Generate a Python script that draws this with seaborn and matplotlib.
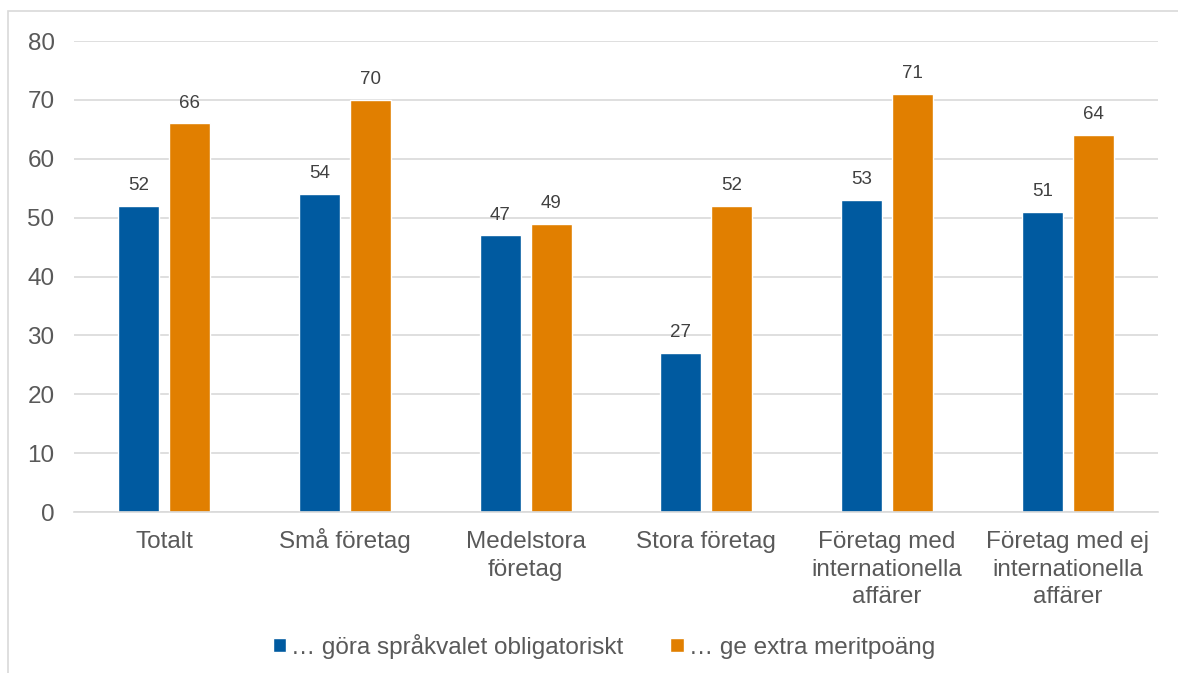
import pandas as pd
import matplotlib.pyplot as plt
import matplotlib.patches as mpatches
import seaborn as sns

categories = ["Totalt", "Små företag", "Medelstora\nföretag", "Stora företag",
              "Företag med\ninternationella\naffärer", "Företag med ej\ninternationella\naffärer"]
series_names = ["… göra språkvalet obligatoriskt", "… ge extra meritpoäng"]
obligatoriskt = [52, 54, 47, 27, 53, 51]
meritpoang = [66, 70, 49, 52, 71, 64]
y_ticks = [0, 10, 20, 30, 40, 50, 60, 70, 80]

COLORS = ["#005AA0", "#E17F00"]
TEXT = "#595959"
GRID = "#D9D9D9"

df = pd.DataFrame({
    "kategori": categories * 2,
    "serie": [series_names[0]] * len(categories) + [series_names[1]] * len(categories),
    "varde": obligatoriskt + meritpoang,
})

sns.set_theme(style="white")
plt.rcParams["font.family"] = ["Liberation Sans", "DejaVu Sans"]
plt.rcParams["text.color"] = TEXT

fig = plt.figure(figsize=(11.78, 6.73), dpi=100)
ax = fig.add_axes([0.0628, 0.2392, 0.9202, 0.6998])

sns.barplot(data=df, x="kategori", y="varde", hue="serie", palette=COLORS,
            width=0.564, gap=0.195, saturation=1, ax=ax, legend=True)

# datavärden ovanför staplarna
for cont in ax.containers:
    ax.bar_label(cont, fmt="%d", padding=8.5, fontsize=13.5, color="#404040")

ax.set_ylim(0, 80)
ax.set_xlim(-0.5, len(categories) - 0.5)
ax.set_yticks(y_ticks)
ax.yaxis.grid(True, color=GRID, linewidth=1.2)
ax.set_axisbelow(True)
for side in ["left", "right", "top"]:
    ax.spines[side].set_visible(False)
ax.spines["bottom"].set_color(GRID)
ax.spines["bottom"].set_linewidth(1.2)
ax.tick_params(axis="y", length=0, pad=14, labelsize=17.5, labelcolor=TEXT)
ax.tick_params(axis="x", length=0, labelbottom=False)
ax.set_xlabel("")
ax.set_ylabel("")

# kategorietiketter rad för rad, så att första radens baslinje ligger lika för alla
for i, cat in enumerate(categories):
    for j, line in enumerate(cat.split("\n")):
        ax.annotate(line, xy=(i, 0), xycoords=("data", "axes fraction"),
                    xytext=(0, -36 - 27.5 * j), textcoords="offset pixels",
                    ha="center", va="baseline", fontsize=17.5, color=TEXT)

handles, labels = ax.get_legend_handles_labels()
ax.get_legend().remove()
fig.legend(handles, labels, loc="center", bbox_to_anchor=(0.5125, 0.040), ncol=2,
           frameon=False, fontsize=17.5, handlelength=0.55, handleheight=0.55,
           handletextpad=0.2, columnspacing=1.95, labelcolor=TEXT)

# ram runt diagramytan
fig.patches.append(mpatches.Rectangle((8 / 1178, -0.1), 1.2, 1 - 11 / 673 + 0.1,
                                      transform=fig.transFigure, fill=False,
                                      edgecolor=GRID, linewidth=1.2))

fig.savefig("out.png", dpi=100)
plt.close(fig)
